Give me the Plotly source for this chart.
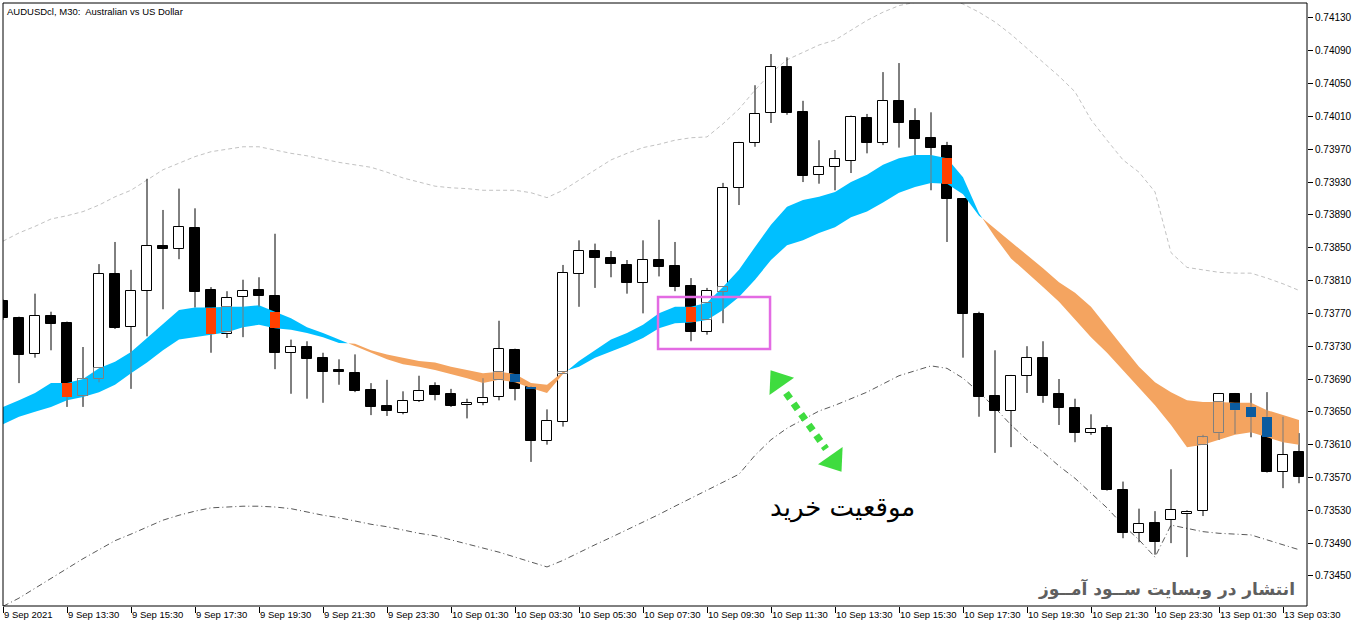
import plotly.graph_objects as go

# ---------------- data (AUDUSD M30, bar index 0 = 9 Sep 2021 11:30) ----------------
tick_pos = list(range(0, 81, 4))
tick_labels = ["9 Sep 2021", "9 Sep 13:30", "9 Sep 15:30", "9 Sep 17:30", "9 Sep 19:30",
               "9 Sep 21:30", "9 Sep 23:30", "10 Sep 01:30", "10 Sep 03:30", "10 Sep 05:30",
               "10 Sep 07:30", "10 Sep 09:30", "10 Sep 11:30", "10 Sep 13:30", "10 Sep 15:30",
               "10 Sep 17:30", "10 Sep 19:30", "10 Sep 21:30", "10 Sep 23:30", "13 Sep 01:30",
               "13 Sep 03:30"]

y_tick_vals = [0.73450, 0.73490, 0.73530, 0.73570, 0.73610, 0.73650, 0.73690, 0.73730, 0.73770,
               0.73810, 0.73850, 0.73890, 0.73930, 0.73970, 0.74010, 0.74050, 0.74090, 0.74130]

open_ = [0.73785, 0.73764, 0.73721, 0.73767, 0.73758, 0.73669, 0.73690, 0.73818, 0.73753, 0.73797,
         0.73852, 0.73848, 0.73874, 0.73798, 0.73745, 0.73790, 0.73798, 0.73791, 0.73722, 0.73729,
         0.73716, 0.73701, 0.73697, 0.73677, 0.73657, 0.73649, 0.73663, 0.73681, 0.73672, 0.73658,
         0.73661, 0.73668, 0.73725, 0.73680, 0.73614, 0.73638, 0.73818, 0.73846, 0.73837, 0.73829,
         0.73807, 0.73835, 0.73828, 0.73803, 0.73747, 0.73796, 0.73923, 0.73978, 0.74014, 0.74070,
         0.74015, 0.73939, 0.73948, 0.73956, 0.74008, 0.73978, 0.74029, 0.74004, 0.73984, 0.73974,
         0.73909, 0.73769, 0.73669, 0.73651, 0.73694, 0.73716, 0.73672, 0.73655, 0.73624, 0.73630,
         0.73555, 0.73502, 0.73515, 0.73518, 0.73526, 0.73529, 0.73624, 0.73672, 0.73656, 0.73644,
         0.73577, 0.73601]
high = [0.73787, 0.73766, 0.73794, 0.73772, 0.73760, 0.73729, 0.73830, 0.73857, 0.73823, 0.73934,
        0.73896, 0.73922, 0.73898, 0.73802, 0.73797, 0.73811, 0.73814, 0.73867, 0.73738, 0.73736,
        0.73722, 0.73714, 0.73720, 0.73685, 0.73689, 0.73675, 0.73694, 0.73686, 0.73678, 0.73666,
        0.73691, 0.73761, 0.73727, 0.73681, 0.73653, 0.73829, 0.73859, 0.73855, 0.73846, 0.73835,
        0.73859, 0.73884, 0.73857, 0.73813, 0.73801, 0.73929, 0.73979, 0.74048, 0.74086, 0.74082,
        0.74029, 0.73981, 0.73969, 0.74011, 0.74013, 0.74064, 0.74075, 0.74020, 0.74015, 0.73979,
        0.73910, 0.73772, 0.73725, 0.73695, 0.73730, 0.73736, 0.73690, 0.73666, 0.73647, 0.73634,
        0.73565, 0.73532, 0.73529, 0.73580, 0.73530, 0.73622, 0.73673, 0.73673, 0.73673, 0.73674,
        0.73644, 0.73624]
low = [0.73762, 0.73685, 0.73716, 0.73725, 0.73656, 0.73656, 0.73686, 0.73751, 0.73678, 0.73742,
       0.73775, 0.73836, 0.73777, 0.73722, 0.73740, 0.73741, 0.73778, 0.73702, 0.73672, 0.73666,
       0.73661, 0.73683, 0.73674, 0.73646, 0.73645, 0.73647, 0.73662, 0.73664, 0.73656, 0.73642,
       0.73658, 0.73664, 0.73664, 0.73589, 0.73610, 0.73632, 0.73778, 0.73801, 0.73814, 0.73794,
       0.73770, 0.73815, 0.73797, 0.73736, 0.73744, 0.73758, 0.73902, 0.73973, 0.74002, 0.74012,
       0.73930, 0.73928, 0.73920, 0.73941, 0.73965, 0.73975, 0.73972, 0.73963, 0.73920, 0.73857,
       0.73716, 0.73644, 0.73600, 0.73607, 0.73673, 0.73661, 0.73634, 0.73613, 0.73622, 0.73554,
       0.73496, 0.73491, 0.73476, 0.73490, 0.73473, 0.73523, 0.73616, 0.73623, 0.73619, 0.73576,
       0.73557, 0.73563]
close = [0.73764, 0.73719, 0.73767, 0.73757, 0.73668, 0.73690, 0.73818, 0.73752, 0.73797, 0.73852,
         0.73848, 0.73875, 0.73796, 0.73745, 0.73789, 0.73797, 0.73791, 0.73722, 0.73729, 0.73714,
         0.73699, 0.73699, 0.73675, 0.73656, 0.73651, 0.73663, 0.73675, 0.73671, 0.73657, 0.73661,
         0.73667, 0.73727, 0.73678, 0.73614, 0.73639, 0.73819, 0.73846, 0.73837, 0.73830, 0.73807,
         0.73835, 0.73826, 0.73802, 0.73747, 0.73797, 0.73923, 0.73978, 0.74013, 0.74070, 0.74014,
         0.73937, 0.73948, 0.73958, 0.74009, 0.73978, 0.74029, 0.74002, 0.73983, 0.73972, 0.73909,
         0.73769, 0.73668, 0.73651, 0.73694, 0.73716, 0.73669, 0.73655, 0.73624, 0.73629, 0.73555,
         0.73502, 0.73513, 0.73491, 0.73530, 0.73528, 0.73619, 0.73672, 0.73652, 0.73644, 0.73577,
         0.73597, 0.73571]

# ribbon: fast and slow moving averages
fast = [0.73656, 0.73664, 0.73673, 0.73685, 0.73685, 0.73690, 0.73703, 0.73711, 0.73723, 0.73740,
        0.73758, 0.73774, 0.73777, 0.73777, 0.73778, 0.73778, 0.73780, 0.73772, 0.73764, 0.73753,
        0.73746, 0.73738, 0.73730, 0.73722, 0.73714, 0.73708, 0.73705, 0.73701, 0.73696, 0.73691,
        0.73685, 0.73689, 0.73686, 0.73679, 0.73673, 0.73696, 0.73712, 0.73725, 0.73738, 0.73746,
        0.73756, 0.73770, 0.73778, 0.73778, 0.73783, 0.73802, 0.73823, 0.73851, 0.73878, 0.73900,
        0.73908, 0.73912, 0.73918, 0.73930, 0.73939, 0.73951, 0.73959, 0.73963, 0.73963, 0.73959,
        0.73936, 0.73892, 0.73863, 0.73837, 0.73820, 0.73802, 0.73784, 0.73762, 0.73741, 0.73722,
        0.73701, 0.73680, 0.73658, 0.73634, 0.73607, 0.73610, 0.73616, 0.73622, 0.73625, 0.73619,
        0.73613, 0.73610]
slow = [0.73635, 0.73644, 0.73650, 0.73656, 0.73664, 0.73668, 0.73674, 0.73683, 0.73697, 0.73710,
        0.73725, 0.73738, 0.73741, 0.73744, 0.73747, 0.73753, 0.73756, 0.73752, 0.73750, 0.73746,
        0.73741, 0.73734, 0.73733, 0.73725, 0.73720, 0.73716, 0.73712, 0.73710, 0.73705, 0.73701,
        0.73697, 0.73699, 0.73696, 0.73685, 0.73683, 0.73699, 0.73705, 0.73716, 0.73723, 0.73731,
        0.73740, 0.73752, 0.73758, 0.73759, 0.73762, 0.73774, 0.73790, 0.73811, 0.73835, 0.73853,
        0.73859, 0.73868, 0.73875, 0.73887, 0.73894, 0.73905, 0.73917, 0.73924, 0.73929, 0.73928,
        0.73915, 0.73889, 0.73874, 0.73857, 0.73841, 0.73825, 0.73808, 0.73795, 0.73778, 0.73753,
        0.73729, 0.73705, 0.73686, 0.73674, 0.73664, 0.73662, 0.73662, 0.73661, 0.73661, 0.73652,
        0.73646, 0.73640]

# envelope bands
upper = [0.73858, 0.73868, 0.73876, 0.73885, 0.73889, 0.73894, 0.73902, 0.73912, 0.73920, 0.73932,
         0.73945, 0.73953, 0.73961, 0.73967, 0.73970, 0.73973, 0.73973, 0.73969, 0.73965, 0.73962,
         0.73958, 0.73954, 0.73951, 0.73948, 0.73942, 0.73935, 0.73930, 0.73925, 0.73923, 0.73922,
         0.73920, 0.73920, 0.73920, 0.73917, 0.73911, 0.73920, 0.73932, 0.73945, 0.73957, 0.73965,
         0.73972, 0.73976, 0.73981, 0.73984, 0.73985, 0.74001, 0.74019, 0.74042, 0.74063, 0.74079,
         0.74088, 0.74097, 0.74103, 0.74115, 0.74127, 0.74137, 0.74145, 0.74149, 0.74153, 0.74153,
         0.74147, 0.74137, 0.74125, 0.74110, 0.74093, 0.74076, 0.74059, 0.74040, 0.74006, 0.73981,
         0.73957, 0.73942, 0.73918, 0.73844, 0.73826, 0.73823, 0.73820, 0.73819, 0.73819, 0.73813,
         0.73806, 0.73798]
lower = [0.73413, 0.73423, 0.73435, 0.73447, 0.73460, 0.73471, 0.73482, 0.73493, 0.73501, 0.73510,
         0.73518, 0.73524, 0.73529, 0.73533, 0.73534, 0.73535, 0.73535, 0.73534, 0.73532, 0.73528,
         0.73524, 0.73521, 0.73517, 0.73513, 0.73510, 0.73506, 0.73502, 0.73499, 0.73494, 0.73489,
         0.73484, 0.73479, 0.73473, 0.73467, 0.73461, 0.73469, 0.73479, 0.73488, 0.73497, 0.73506,
         0.73516, 0.73525, 0.73535, 0.73545, 0.73555, 0.73565, 0.73574, 0.73597, 0.73616, 0.73630,
         0.73641, 0.73651, 0.73658, 0.73666, 0.73674, 0.73684, 0.73694, 0.73700, 0.73706, 0.73703,
         0.73691, 0.73674, 0.73655, 0.73634, 0.73616, 0.73601, 0.73584, 0.73569, 0.73551, 0.73533,
         0.73512, 0.73494, 0.73473, 0.73512, 0.73508, 0.73504, 0.73502, 0.73501, 0.73500, 0.73494,
         0.73488, 0.73482]

# ---------------- styles ----------------
BLUE = "#00BFFF"
ORANGE = "#F4A460"
BLUE_XOR = "#FF4000"      # black body seen through blue ribbon
ORANGE_XOR = "#0B5B9F"    # black body seen through orange ribbon
BODY_W = 0.62
AXIS_FONT = "Liberation Sans, Arial, sans-serif"

n = len(open_)
xs = list(range(n))
bull = [i for i in xs if close[i] >= open_[i]]
bear = [i for i in xs if close[i] < open_[i]]

fig = go.Figure()

# bands
fig.add_trace(go.Scatter(x=xs, y=upper, mode="lines", hoverinfo="skip",
                         line=dict(color="#c2c2c2", width=1, dash="4px,3px"), zorder=0))
fig.add_trace(go.Scatter(x=xs, y=lower, mode="lines", hoverinfo="skip",
                         line=dict(color="#5a5a5a", width=1, dash="6px,3px,1px,3px"), zorder=0))

# wicks
wx, wy = [], []
for i in xs:
    wx += [i, i, None]
    wy += [low[i], high[i], None]
fig.add_trace(go.Scatter(x=wx, y=wy, mode="lines", hoverinfo="skip",
                         line=dict(color="black", width=1), zorder=1))

# bodies
fig.add_trace(go.Bar(x=bull, base=[open_[i] for i in bull],
                     y=[close[i] - open_[i] for i in bull], width=BODY_W,
                     marker=dict(color="white", line=dict(color="black", width=1)), zorder=2))
fig.add_trace(go.Bar(x=bear, base=[close[i] for i in bear],
                     y=[open_[i] - close[i] for i in bear], width=BODY_W,
                     marker=dict(color="black", line=dict(color="black", width=1)), zorder=2))

# ribbon polygons, split where the two averages cross
segs = []
cur_up = fast[0] >= slow[0]
sx, sf, ss = [0], [fast[0]], [slow[0]]
for i in range(1, n):
    up = fast[i] >= slow[i]
    if up != cur_up:
        d0 = fast[i - 1] - slow[i - 1]
        d1 = fast[i] - slow[i]
        t = d0 / (d0 - d1)
        xc = i - 1 + t
        yc = fast[i - 1] + t * (fast[i] - fast[i - 1])
        sx.append(xc); sf.append(yc); ss.append(yc)
        segs.append((cur_up, sx, sf, ss))
        sx, sf, ss = [xc], [yc], [yc]
        cur_up = up
    sx.append(i); sf.append(fast[i]); ss.append(slow[i])
segs.append((cur_up, sx, sf, ss))
for up, px, pf, ps in segs:
    fig.add_trace(go.Scatter(x=px + px[::-1], y=pf + ps[::-1], mode="lines", fill="toself",
                             fillcolor=BLUE if up else ORANGE, line=dict(width=0),
                             hoverinfo="skip", zorder=3))

# gray outlines of candles seen through the ribbon, and XOR-coloured bearish bodies
gx, gy = [], []
ob_x, ob_b, ob_h = [], [], []
ov_x, ov_b, ov_h, ov_c = [], [], [], []
for i in xs:
    rlo, rhi = min(fast[i], slow[i]), max(fast[i], slow[i])
    blo, bhi = min(open_[i], close[i]), max(open_[i], close[i])
    for a, b in ((bhi, high[i]), (low[i], blo)):
        lo, hi = max(a, rlo), min(b, rhi)
        if hi > lo:
            gx += [i, i, None]
            gy += [lo, hi, None]
    lo, hi = max(blo, rlo), min(bhi, rhi)
    if hi > lo:
        if close[i] >= open_[i]:
            ob_x.append(i); ob_b.append(lo); ob_h.append(hi - lo)
        else:
            ov_x.append(i); ov_b.append(lo); ov_h.append(hi - lo)
            ov_c.append(BLUE_XOR if fast[i] >= slow[i] else ORANGE_XOR)
fig.add_trace(go.Scatter(x=gx, y=gy, mode="lines", hoverinfo="skip",
                         line=dict(color="#7a7a7a", width=1), zorder=4))
fig.add_trace(go.Bar(x=ob_x, base=ob_b, y=ob_h, width=BODY_W,
                     marker=dict(color="rgba(0,0,0,0)", line=dict(color="#808080", width=1)), zorder=4))
fig.add_trace(go.Bar(x=ov_x, base=ov_b, y=ov_h, width=BODY_W,
                     marker=dict(color=ov_c, line=dict(width=0)), zorder=5))

# green double arrow (annotation)
GREEN = "#3fdc3f"
fig.add_trace(go.Scatter(x=[48.94, 51.44], y=[0.736730, 0.736047], mode="lines",
                         line=dict(color=GREEN, width=7, dash="7px,6px"), hoverinfo="skip", zorder=6))
fig.add_trace(go.Scatter(x=[48.44, 51.94], y=[0.736876, 0.735901], mode="markers",
                         marker=dict(symbol="triangle-up", size=26, color=GREEN,
                                     angle=[-35, 145], line=dict(width=0)),
                         hoverinfo="skip", zorder=6))

fig.update_layout(
    width=1362, height=628,
    margin=dict(l=3, r=55, t=3, b=22, autoexpand=False),
    paper_bgcolor="white", plot_bgcolor="white",
    showlegend=False, barmode="overlay", bargap=0,
    shapes=[
        dict(type="rect", xref="x", yref="y", x0=40.94, x1=47.94,
             y0=0.737266, y1=0.737900, line=dict(color="#e36be3", width=2.5),
             fillcolor="rgba(0,0,0,0)", layer="above"),
        dict(type="rect", xref="paper", yref="paper", x0=0, x1=1, y0=0, y1=1,
             line=dict(color="black", width=1), fillcolor="rgba(0,0,0,0)", layer="above"),
    ],
    annotations=[
        dict(text="AUDUSDcl, M30:  Australian vs US Dollar", xref="paper", yref="paper",
             x=0, y=1, xanchor="left", yanchor="top", xshift=2, yshift=-1, showarrow=False,
             font=dict(family=AXIS_FONT, size=9.5, color="black")),
        dict(text="موقعیت خرید", xref="x", yref="y", x=52.44, y=0.73534,
             xanchor="center", yanchor="middle", showarrow=False,
             font=dict(family="DejaVu Sans, sans-serif", size=26, color="black")),
        dict(text="<b>انتشار در وبسایت ســود آمــوز</b>", xref="paper", yref="paper",
             x=1, y=0.028, xanchor="right", yanchor="middle", xshift=-10, showarrow=False,
             font=dict(family="DejaVu Sans, sans-serif", size=17, color="#5f5f5f")),
    ],
)
fig.update_xaxes(range=[0, 81.5], tickmode="array", tickvals=tick_pos, ticktext=tick_labels,
                 tickangle=0, automargin=False,
                 ticks="outside", ticklen=6, tickcolor="black", tickwidth=1,
                 ticklabelposition="outside right",
                 showline=True, linecolor="black", linewidth=1, mirror=True,
                 showgrid=False, zeroline=False,
                 tickfont=dict(family=AXIS_FONT, size=9.5, color="black"))
fig.update_yaxes(side="right", range=[0.734134, 0.741482], tickmode="array",
                 tickvals=y_tick_vals, ticktext=["%.5f" % v for v in y_tick_vals],
                 automargin=False,
                 ticks="outside", ticklen=5, tickcolor="black", tickwidth=1,
                 showline=True, linecolor="black", linewidth=1, mirror=True,
                 showgrid=False, zeroline=False,
                 tickfont=dict(family=AXIS_FONT, size=10, color="black"))

fig.write_html("out.html", config={"displayModeBar": False},
               post_script="document.body.style.margin='0';")
